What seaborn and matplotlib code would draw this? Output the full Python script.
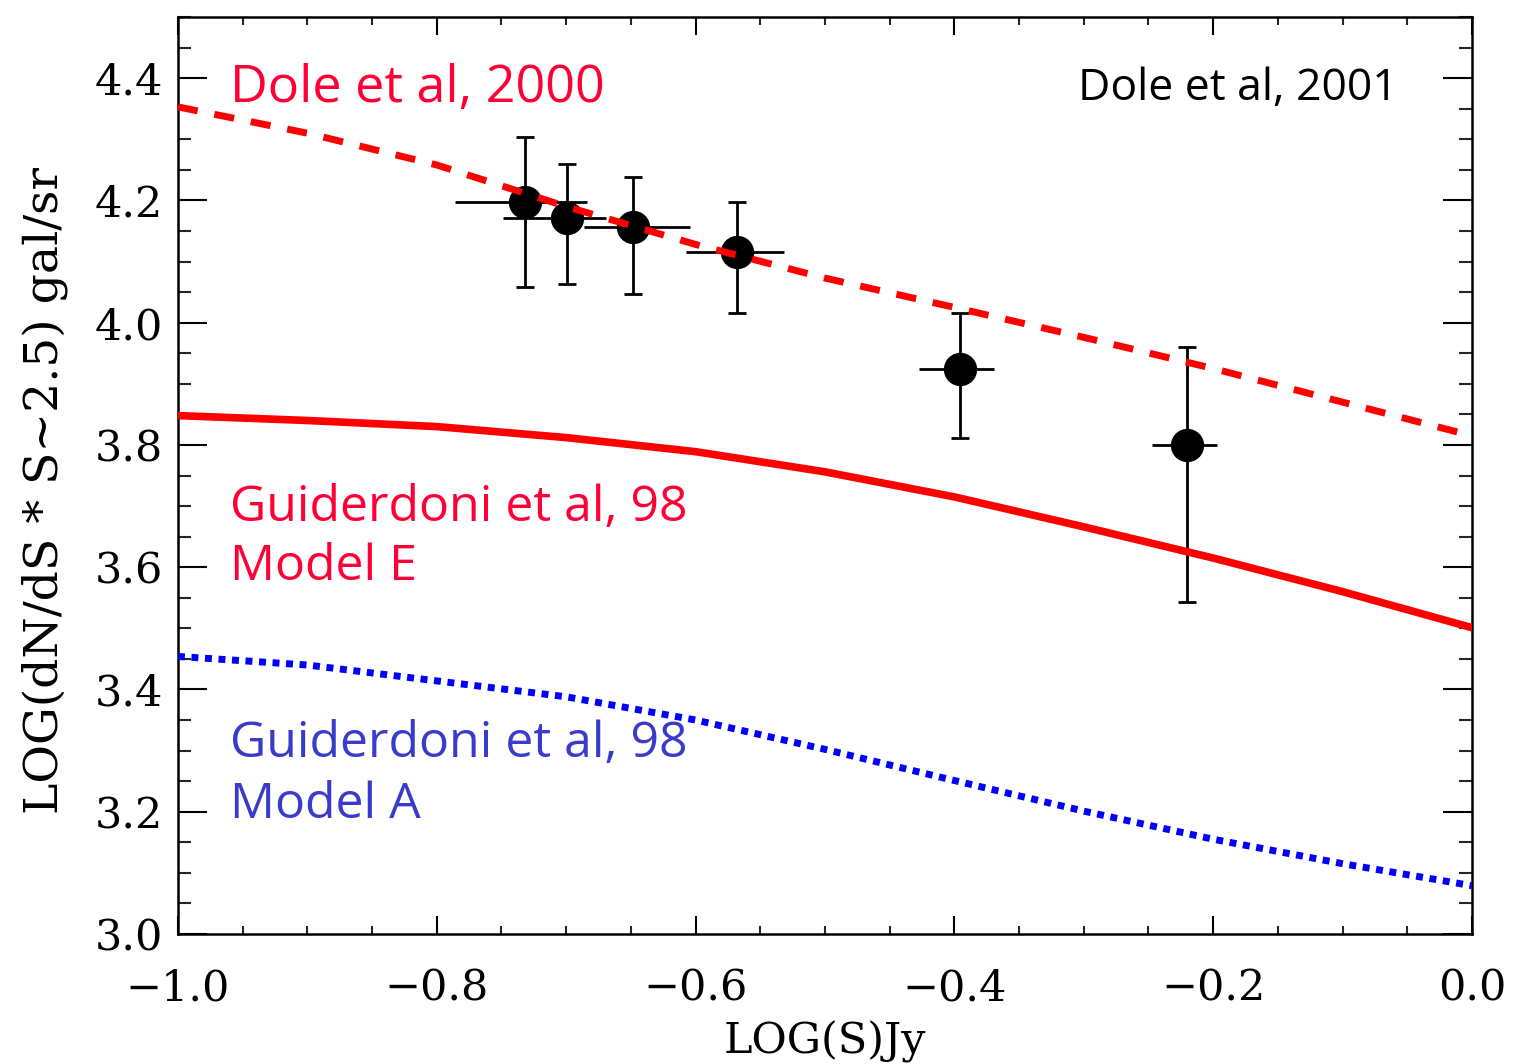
import numpy as np
import pandas as pd
import matplotlib
matplotlib.use("Agg")
import matplotlib.pyplot as plt
from matplotlib.ticker import MultipleLocator
import seaborn as sns

# ---------------- data ----------------
model_x = [-1.0, -0.9, -0.8, -0.7, -0.6, -0.5, -0.4, -0.3, -0.2, -0.1, 0.0]
dole2000_y = [4.353, 4.310, 4.258, 4.190, 4.128, 4.073, 4.025, 3.976, 3.925, 3.870, 3.815]
modelE_y = [3.848, 3.840, 3.830, 3.812, 3.789, 3.756, 3.715, 3.666, 3.615, 3.560, 3.501]
modelA_y = [3.454, 3.440, 3.414, 3.388, 3.350, 3.302, 3.251, 3.201, 3.155, 3.115, 3.079]

pt_x = [-0.732, -0.699, -0.648, -0.568, -0.396, -0.220]
pt_y = [4.198, 4.172, 4.156, 4.115, 3.925, 3.800]
pt_y_hi = [4.303, 4.260, 4.239, 4.197, 4.016, 3.960]
pt_y_lo = [4.058, 4.063, 4.047, 4.016, 3.811, 3.543]
pt_x_lo = [-0.786, -0.749, -0.686, -0.607, -0.427, -0.247]
pt_x_hi = [-0.684, -0.669, -0.604, -0.532, -0.369, -0.197]

x_ticks = [-1.0, -0.8, -0.6, -0.4, -0.2, 0.0]
x_ticklabels = ["\u22121.0", "\u22120.8", "\u22120.6", "\u22120.4", "\u22120.2", "0.0"]
y_ticks = [3.0, 3.2, 3.4, 3.6, 3.8, 4.0, 4.2, 4.4]
y_ticklabels = ["3.0", "3.2", "3.4", "3.6", "3.8", "4.0", "4.2", "4.4"]

# ---------------- style ----------------
sns.set_theme(style="ticks")
plt.rcParams["font.family"] = ["DejaVu Serif"]

fig = plt.figure(figsize=(15.26, 10.64), dpi=100)
ax = fig.add_axes([0.1166, 0.1222, 0.848, 0.8618])
ax.set_facecolor("white")
fig.patch.set_facecolor("white")

df_models = pd.DataFrame({"x": model_x, "dole": dole2000_y, "E": modelE_y, "A": modelA_y})
df_pts = pd.DataFrame({"x": pt_x, "y": pt_y})

# error bars
yerr = [np.array(pt_y) - np.array(pt_y_lo), np.array(pt_y_hi) - np.array(pt_y)]
xerr = [np.array(pt_x) - np.array(pt_x_lo), np.array(pt_x_hi) - np.array(pt_x)]
ax.errorbar(pt_x, pt_y, yerr=yerr, fmt="none", ecolor="black", elinewidth=2.0,
            capsize=6.5, capthick=2.0, zorder=2)
ax.errorbar(pt_x, pt_y, xerr=xerr, fmt="none", ecolor="black", elinewidth=2.0,
            capsize=0, zorder=2)
sns.scatterplot(data=df_pts, x="x", y="y", ax=ax, color="black", s=24 ** 2,
                edgecolor="black", linewidth=0, zorder=3, legend=False)

# model curves
sns.lineplot(data=df_models, x="x", y="dole", ax=ax, color="#ff0000", lw=5,
             linestyle=(0, (2.9, 2.45)), sort=False, estimator=None, zorder=4)
sns.lineplot(data=df_models, x="x", y="E", ax=ax, color="#ff0000", lw=5.5,
             sort=False, estimator=None, zorder=4)
sns.lineplot(data=df_models, x="x", y="A", ax=ax, color="#0000ff", lw=5,
             linestyle=(0, (1.0, 0.95)), sort=False, estimator=None, zorder=4)

# axes limits / ticks
ax.set_xlim(-1.0, 0.0)
ax.set_ylim(3.0, 4.5)
ax.set_xticks(x_ticks)
ax.set_xticklabels(x_ticklabels)
ax.set_yticks(y_ticks)
ax.set_yticklabels(y_ticklabels)
ax.xaxis.set_minor_locator(MultipleLocator(0.05))
ax.yaxis.set_minor_locator(MultipleLocator(0.05))
ax.tick_params(axis="x", which="major", direction="in", length=13, width=1.5,
               top=True, bottom=True, labelsize=31, pad=24, colors="black")
ax.tick_params(axis="x", which="minor", direction="in", length=6, width=1.5,
               top=True, bottom=True)
ax.tick_params(axis="y", which="major", direction="in", length=21, width=1.5,
               left=True, right=True, labelsize=31, pad=11, colors="black")
ax.tick_params(axis="y", which="minor", direction="in", length=9.5, width=1.5,
               left=True, right=True)
for sp in ax.spines.values():
    sp.set_visible(True)
    sp.set_linewidth(1.8)
    sp.set_color("black")

ax.set_xlabel("LOG(S)Jy", fontsize=31, color="black")
ax.xaxis.set_label_coords(0.5, -0.118)
ax.xaxis.label.set_verticalalignment("center")
ax.set_ylabel("LOG(dN/dS * S~2.5) gal/sr", fontsize=34, color="black")
ax.yaxis.set_label_coords(-0.103, 0.484)
ax.yaxis.label.set_verticalalignment("center")

# annotations
sans = ["Open Sans", "DejaVu Sans"]
red_txt = "#ff0036"
blue_txt = "#3a3acc"
ax.text(0.040, 0.907, "Dole et al, 2000", transform=ax.transAxes, fontsize=37.5,
        color=red_txt, family=sans, ha="left", va="baseline")
ax.text(0.943, 0.909, "Dole et al, 2001", transform=ax.transAxes, fontsize=32,
        color="black", family=sans, ha="right", va="baseline")
ax.text(0.040, 0.450, "Guiderdoni et al, 98", transform=ax.transAxes, fontsize=36,
        color=red_txt, family=sans, ha="left", va="baseline")
ax.text(0.040, 0.386, "Model E", transform=ax.transAxes, fontsize=36,
        color=red_txt, family=sans, ha="left", va="baseline")
ax.text(0.040, 0.193, "Guiderdoni et al, 98", transform=ax.transAxes, fontsize=36,
        color=blue_txt, family=sans, ha="left", va="baseline")
ax.text(0.040, 0.1265, "Model A", transform=ax.transAxes, fontsize=36,
        color=blue_txt, family=sans, ha="left", va="baseline")

fig.savefig("out.png", dpi=100, facecolor="white")
